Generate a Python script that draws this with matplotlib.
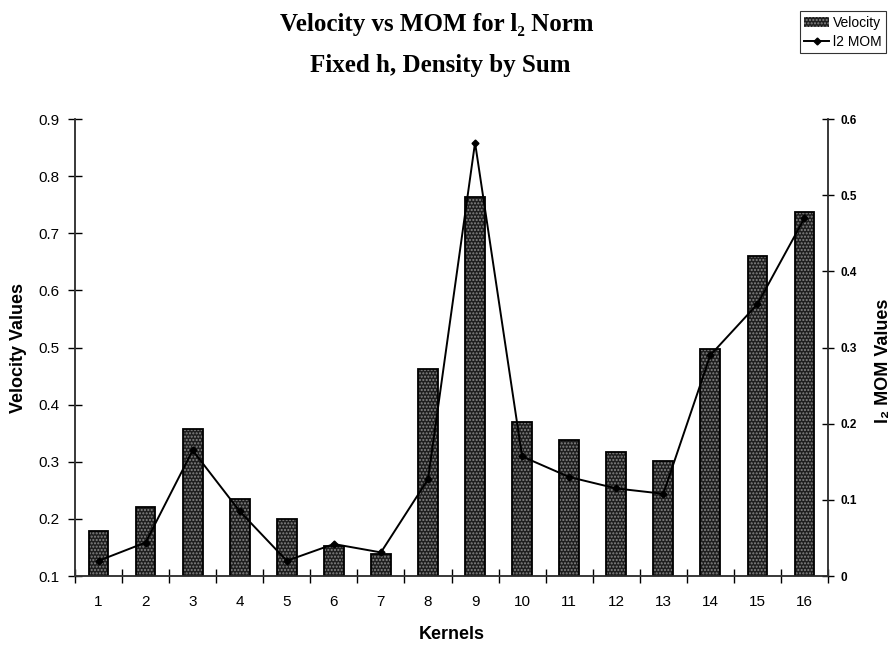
import numpy as np
import matplotlib.pyplot as plt

# velocity (left axis) and l2 MOM (right axis) per kernel
kernels = list(range(1, 17))
velocity = [0.179, 0.220, 0.357, 0.235, 0.200, 0.153, 0.138, 0.462,
            0.764, 0.370, 0.338, 0.317, 0.301, 0.497, 0.661, 0.738]
l2_mom = [0.020, 0.044, 0.165, 0.085, 0.020, 0.042, 0.031, 0.127,
          0.569, 0.157, 0.130, 0.115, 0.108, 0.290, 0.357, 0.470]

plt.rcParams['font.family'] = ['Liberation Sans', 'DejaVu Sans']

fig = plt.figure(figsize=(8.94, 6.47), dpi=100)
ax = fig.add_axes([0.0839, 0.1097, 0.8423, 0.7063])
ax2 = ax.twinx()

x = np.arange(len(kernels))
# stippled bars: dark fill with light dots, then black outline on top
ax.bar(x, np.array(velocity) - 0.1, width=0.42, bottom=0.1, color='#1e1e1e',
       edgecolor='#858585', hatch='.....', linewidth=0, zorder=2)
ax.bar(x, np.array(velocity) - 0.1, width=0.42, bottom=0.1, fill=False,
       edgecolor='black', linewidth=1.3, zorder=3)

ax2.plot(x, l2_mom, color='black', linewidth=1.4, marker='D', markersize=3.5,
         zorder=4)

ax.set_xlim(-0.5, len(kernels) - 0.5)
ax.set_ylim(0.1, 0.9)
ax2.set_ylim(0, 0.6)

ax.set_yticks(np.arange(0.1, 0.91, 0.1))
ax.set_yticklabels(['%.1f' % v for v in np.arange(0.1, 0.91, 0.1)], fontsize=11)
ax2.set_yticks(np.arange(0, 0.61, 0.1))
ax2.set_yticklabels(['0'] + ['%.1f' % v for v in np.arange(0.1, 0.61, 0.1)],
                    fontsize=8.5, fontweight='bold')

# category ticks sit between bars, labels at bar centres
ax.set_xticks(np.arange(-0.5, len(kernels), 1.0))
ax.set_xticklabels([])
ax.set_xticks(x, minor=True)
ax.set_xticklabels([str(k) for k in kernels], minor=True, fontsize=11)
ax.tick_params(axis='x', which='minor', length=0, pad=14)
ax.tick_params(axis='x', which='major', direction='inout', length=10, width=1)
ax.tick_params(axis='y', direction='inout', length=10, width=1, pad=6)
ax2.tick_params(axis='y', direction='inout', length=8, width=1, pad=5)

for a in (ax, ax2):
    a.spines['top'].set_visible(False)
    for s in ('left', 'right', 'bottom'):
        a.spines[s].set_color('#333333')
        a.spines[s].set_linewidth(1.1)

ax.set_xlabel('Kernels', fontsize=13, fontweight='bold', labelpad=12)
ax.set_ylabel('Velocity Values', fontsize=13, fontweight='bold', labelpad=8)
ax2.set_ylabel('l\u2082 MOM Values', fontsize=13, fontweight='bold', labelpad=10)
ax2.yaxis.set_label_coords(1.063, 0.47)

fig.text(0.489, 0.962, 'Velocity vs MOM for l\u2082 Norm', ha='center', va='center',
         fontsize=18, fontweight='bold', family=['Liberation Serif', 'DejaVu Serif'])
fig.text(0.492, 0.898, 'Fixed h, Density by Sum', ha='center', va='center',
         fontsize=18, fontweight='bold', family=['Liberation Serif', 'DejaVu Serif'])

h1 = plt.Rectangle((0, 0), 1, 1, facecolor='#1e1e1e', edgecolor='#858585',
                   hatch='.....', linewidth=0)
h2, = ax2.plot([], [], color='black', linewidth=1.4, marker='D', markersize=3.5)
leg = fig.legend([h1, h2], ['Velocity', 'l2 MOM'], loc='upper right',
                 bbox_to_anchor=(0.999, 0.993), fontsize=10, frameon=True,
                 fancybox=False, edgecolor='black', borderpad=0.3,
                 handlelength=1.8, handletextpad=0.3, labelspacing=0.35)
leg.get_frame().set_linewidth(0.8)

fig.savefig('out.png', dpi=100)
